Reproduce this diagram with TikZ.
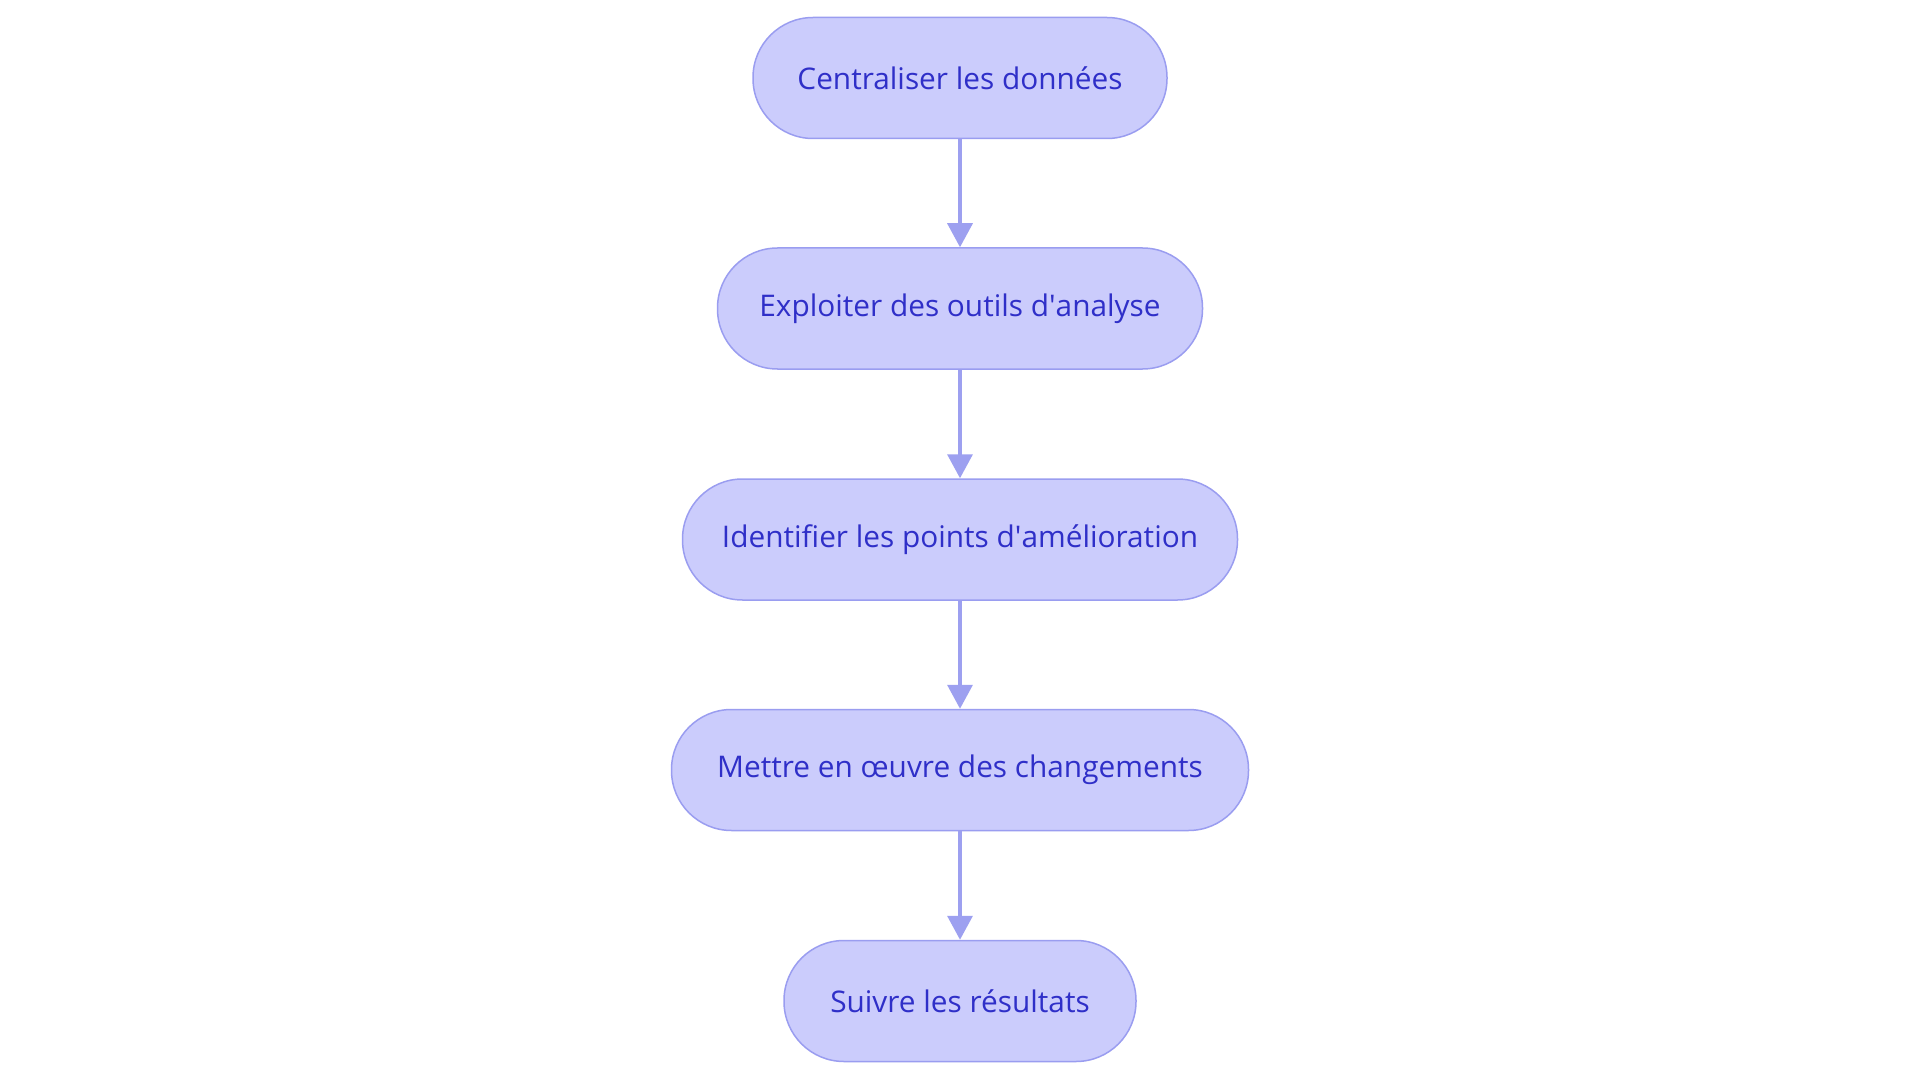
\documentclass[tikz,border=0pt]{standalone}
\usepackage{fontspec}
\setmainfont{Open Sans}
\usetikzlibrary{arrows.meta}
\definecolor{nfill}{HTML}{CBCCFC}
\definecolor{nborder}{HTML}{9A9DF0}
\definecolor{ntext}{HTML}{2F2FC8}
\definecolor{narrow}{HTML}{9DA0F0}
\begin{document}
\begin{tikzpicture}[x=1pt,y=-1pt,
  box/.style={draw=nborder, line width=1.5pt, fill=nfill, rounded corners=60pt,
    minimum height=121pt, text=ntext, font=\fontsize{29.8}{34}\selectfont, inner sep=0pt},
  conn/.style={draw=narrow, line width=3.5pt, -{Triangle[length=24pt,width=25pt]}}]
\path[use as bounding box, fill=white] (0,0) rectangle (1920,1083);
\node[box, minimum width=414pt] (n1) at (960,78) {Centraliser les données};
\node[box, minimum width=485pt] (n2) at (960,308.5) {Exploiter des outils d\textquotesingle analyse};
\node[box, minimum width=555pt] (n3) at (960,539.5) {Identif\kern0pt ier les points d\textquotesingle amélioration};
\node[box, minimum width=577pt] (n4) at (960,770) {Mettre en œuvre des changements};
\node[box, minimum width=352pt] (n5) at (960,1001) {Suivre les résultats};
\draw[conn] (n1) -- (n2);
\draw[conn] (n2) -- (n3);
\draw[conn] (n3) -- (n4);
\draw[conn] (n4) -- (n5);
\end{tikzpicture}
\end{document}
